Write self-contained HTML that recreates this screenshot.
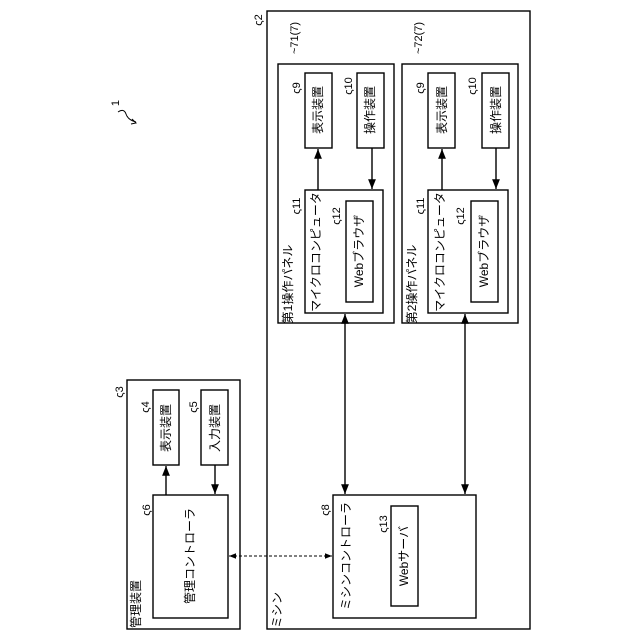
<!DOCTYPE html>
<html><head><meta charset="utf-8"><style>
html,body{margin:0;padding:0;background:#fff;}
svg{display:block;font-family:"Liberation Sans","Noto Sans CJK JP",sans-serif;}
</style></head><body>
<svg width="640" height="640" viewBox="0 0 640 640" xmlns="http://www.w3.org/2000/svg">
<defs>
<marker id="a" viewBox="0 0 10 10" refX="10" refY="5" markerWidth="7" markerHeight="7" orient="auto-start-reverse"><path d="M0,1 L10,5 L0,9 z" fill="#000"/></marker>
</defs>
<g fill="none" stroke="#000" stroke-width="1.4">
<rect x="267" y="11" width="263" height="618"/>
<rect x="278" y="64" width="116" height="259"/>
<rect x="402" y="64" width="116" height="259"/>
<rect x="305" y="73" width="27" height="75"/>
<rect x="357" y="73" width="27" height="75"/>
<rect x="305" y="190" width="78" height="123"/>
<rect x="346" y="201" width="27" height="101"/>
<rect x="428" y="73" width="27" height="75"/>
<rect x="482" y="73" width="27" height="75"/>
<rect x="428" y="190" width="80" height="123"/>
<rect x="471" y="201" width="27" height="101"/>
<rect x="333" y="495" width="143" height="123"/>
<rect x="391" y="506" width="27" height="100"/>
<rect x="127" y="380" width="113" height="249"/>
<rect x="153" y="390" width="26" height="75"/>
<rect x="201" y="390" width="27" height="75"/>
<rect x="153" y="495" width="75" height="123"/>
<line x1="318" y1="190" x2="318" y2="149" marker-end="url(#a)"/>
<line x1="372" y1="148" x2="372" y2="189" marker-end="url(#a)"/>
<line x1="442" y1="190" x2="442" y2="149" marker-end="url(#a)"/>
<line x1="496" y1="148" x2="496" y2="189" marker-end="url(#a)"/>
<line x1="345" y1="314" x2="345" y2="494" marker-start="url(#a)" marker-end="url(#a)"/>
<line x1="465" y1="314" x2="465" y2="494" marker-start="url(#a)" marker-end="url(#a)"/>
<line x1="166" y1="495" x2="166" y2="466" marker-end="url(#a)"/>
<line x1="215" y1="465" x2="215" y2="494" marker-end="url(#a)"/>
<line x1="229" y1="556" x2="332" y2="556" stroke-width="1" stroke-dasharray="3,2" marker-start="url(#a)" marker-end="url(#a)"/>
<path d="M118,112 q6,-4 8,2 t10,8" stroke-width="1"/>
<path d="M132,119 l4,4 l-5,1" stroke-width="1"/>
</g>
<g font-size="12" text-anchor="middle" dominant-baseline="central" fill="#000">
<text transform="translate(318,110) rotate(-90)">表示装置</text>
<text transform="translate(370,110) rotate(-90)">操作装置</text>
<text transform="translate(442,110) rotate(-90)">表示装置</text>
<text transform="translate(496,110) rotate(-90)">操作装置</text>
<text transform="translate(316,252) rotate(-90)">マイクロコンピュータ</text>
<text transform="translate(440,252) rotate(-90)">マイクロコンピュータ</text>
<text transform="translate(359,251) rotate(-90)">Webブラウザ</text>
<text transform="translate(484,251) rotate(-90)">Webブラウザ</text>
<text transform="translate(288,284) rotate(-90)">第1操作パネル</text>
<text transform="translate(412,284) rotate(-90)">第2操作パネル</text>
<text transform="translate(166,428) rotate(-90)">表示装置</text>
<text transform="translate(215,428) rotate(-90)">入力装置</text>
<text transform="translate(190,556) rotate(-90)">管理コントローラ</text>
<text transform="translate(346,556) rotate(-90)">ミシンコントローラ</text>
<text transform="translate(404,556) rotate(-90)">Webサーバ</text>
<text transform="translate(136,604) rotate(-90)">管理装置</text>
<text transform="translate(277,610) rotate(-90)">ミシン</text>
</g>
<g font-size="11" text-anchor="middle" dominant-baseline="central" fill="#000">
<text transform="translate(295,38) rotate(-90)">~71(7)</text>
<text transform="translate(419,38) rotate(-90)">~72(7)</text>
<text transform="translate(297,88) rotate(-90)">ς9</text>
<text transform="translate(349,86) rotate(-90)">ς10</text>
<text transform="translate(421,88) rotate(-90)">ς9</text>
<text transform="translate(473,86) rotate(-90)">ς10</text>
<text transform="translate(297,206) rotate(-90)">ς11</text>
<text transform="translate(337,216) rotate(-90)">ς12</text>
<text transform="translate(421,206) rotate(-90)">ς11</text>
<text transform="translate(461,216) rotate(-90)">ς12</text>
<text transform="translate(326,510) rotate(-90)">ς8</text>
<text transform="translate(384,524) rotate(-90)">ς13</text>
<text transform="translate(147,510) rotate(-90)">ς6</text>
<text transform="translate(146,407) rotate(-90)">ς4</text>
<text transform="translate(194,407) rotate(-90)">ς5</text>
<text transform="translate(120,392) rotate(-90)">ς3</text>
<text transform="translate(259,20) rotate(-90)">ς2</text>
<text transform="translate(116,103) rotate(-90)">1</text>
</g>
</svg>
</body></html>
